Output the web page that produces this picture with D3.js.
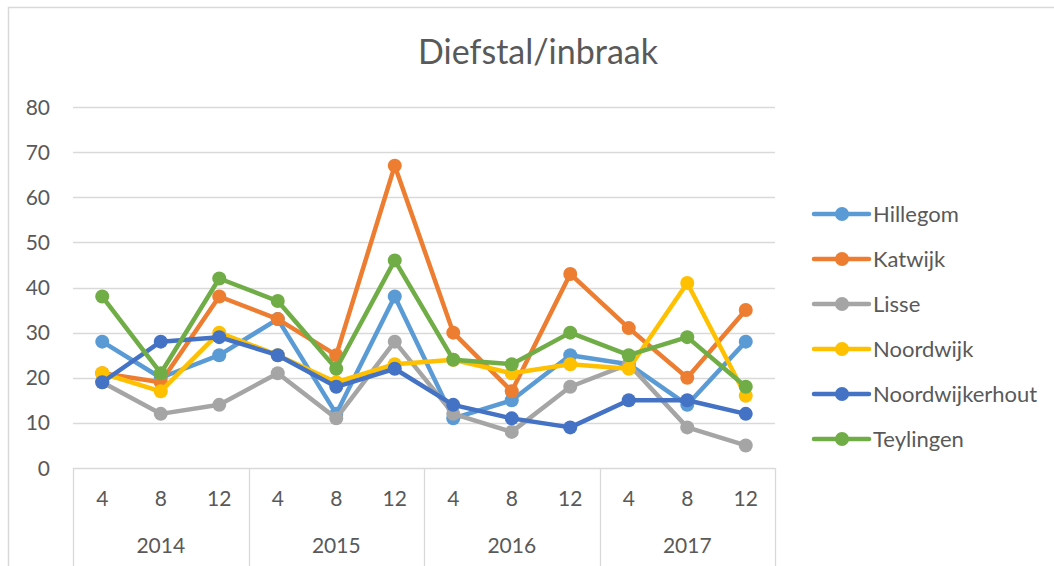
<!DOCTYPE html>
<html>
<head>
<meta charset="utf-8">
<script src="https://cdn.jsdelivr.net/npm/d3@7"></script>
<style>
  body { margin: 0; background: #fff; }
  text { font-family: Lato, "Open Sans", sans-serif; fill: #595959; }
</style>
</head>
<body>
<script>
// data
var years = ["2014", "2015", "2016", "2017"];
var months = ["4", "8", "12"];
var yTicks = [0, 10, 20, 30, 40, 50, 60, 70, 80];

var seriesNames = ["Hillegom", "Katwijk", "Lisse", "Noordwijk", "Noordwijkerhout", "Teylingen"];
var seriesColors = ["#5B9BD5", "#ED7D31", "#A5A5A5", "#FFC000", "#4472C4", "#70AD47"];

var hillegom        = [28, 20, 25, 33, 12, 38, 11, 15, 25, 23, 14, 28];
var katwijk         = [21, 19, 38, 33, 25, 67, 30, 17, 43, 31, 20, 35];
var lisse           = [19, 12, 14, 21, 11, 28, 12, 8, 18, 23, 9, 5];
var noordwijk       = [21, 17, 30, 25, 19, 23, 24, 21, 23, 22, 41, 16];
var noordwijkerhout = [19, 28, 29, 25, 18, 22, 14, 11, 9, 15, 15, 12];
var teylingen       = [38, 21, 42, 37, 22, 46, 24, 23, 30, 25, 29, 18];

var seriesValues = [hillegom, katwijk, lisse, noordwijk, noordwijkerhout, teylingen];

var width = 1054, height = 566;
var plot = {left: 73, right: 775, top: 107, bottom: 468};

// categories: year + month
var cats = [];
years.forEach(function (y) {
    months.forEach(function (m) { cats.push(y + "-" + m); });
});

var svg = d3.select("body").append("svg")
    .attr("width", width)
    .attr("height", height);

// chart border (only top and left visible in the crop)
svg.append("path")
    .attr("d", "M8.5," + height + "V7.5H" + width)
    .attr("fill", "none")
    .attr("stroke", "#d9d9d9")
    .attr("stroke-width", 1.5);

var x = d3.scaleBand().domain(cats).range([plot.left, plot.right]);
var xYear = d3.scaleBand().domain(years).range([plot.left, plot.right]);
var y = d3.scaleLinear().domain([0, 80]).range([plot.bottom, plot.top]);

// title
svg.append("text")
    .attr("x", 538)
    .attr("y", 64)
    .attr("text-anchor", "middle")
    .attr("font-size", 34)
    .text("Diefstal/inbraak");

// gridlines
svg.append("g").selectAll("line.grid")
    .data(yTicks.slice(1))
    .enter().append("line")
    .attr("class", "grid")
    .attr("x1", plot.left).attr("x2", plot.right)
    .attr("y1", function (d) { return Math.round(y(d)) + 0.5; })
    .attr("y2", function (d) { return Math.round(y(d)) + 0.5; })
    .attr("stroke", "#d9d9d9")
    .attr("stroke-width", 1.3);

// y tick labels
svg.append("g").selectAll("text.ytick")
    .data(yTicks)
    .enter().append("text")
    .attr("class", "ytick")
    .attr("x", 50)
    .attr("y", function (d) { return y(d); })
    .attr("dy", "0.36em")
    .attr("text-anchor", "end")
    .attr("font-size", 21)
    .text(function (d) { return d; });

// category axis: baseline and year separators
svg.append("line")
    .attr("x1", plot.left).attr("x2", plot.right)
    .attr("y1", plot.bottom + 0.5).attr("y2", plot.bottom + 0.5)
    .attr("stroke", "#d9d9d9").attr("stroke-width", 1.3);

var sepX = years.map(function (d) { return xYear(d); }).concat([plot.right]);
svg.append("g").selectAll("line.sep")
    .data(sepX)
    .enter().append("line")
    .attr("class", "sep")
    .attr("x1", function (d) { return Math.round(d) + 0.5; })
    .attr("x2", function (d) { return Math.round(d) + 0.5; })
    .attr("y1", plot.bottom).attr("y2", height)
    .attr("stroke", "#d9d9d9").attr("stroke-width", 1.3);

svg.append("g").selectAll("text.month")
    .data(cats)
    .enter().append("text")
    .attr("class", "month")
    .attr("x", function (d) { return x(d) + x.bandwidth() / 2; })
    .attr("y", 506)
    .attr("text-anchor", "middle")
    .attr("font-size", 21)
    .text(function (d) { return d.split("-")[1]; });

svg.append("g").selectAll("text.year")
    .data(years)
    .enter().append("text")
    .attr("class", "year")
    .attr("x", function (d) { return xYear(d) + xYear.bandwidth() / 2; })
    .attr("y", 553)
    .attr("text-anchor", "middle")
    .attr("font-size", 21)
    .text(function (d) { return d; });

// series
var line = d3.line()
    .x(function (d, i) { return x(cats[i]) + x.bandwidth() / 2; })
    .y(function (d) { return y(d); });

seriesValues.forEach(function (vals, s) {
    var g = svg.append("g").attr("class", "series");
    g.append("path")
        .datum(vals)
        .attr("d", line)
        .attr("fill", "none")
        .attr("stroke", seriesColors[s])
        .attr("stroke-width", 4.5)
        .attr("stroke-linejoin", "round")
        .attr("stroke-linecap", "round");
    g.selectAll("circle")
        .data(vals)
        .enter().append("circle")
        .attr("cx", function (d, i) { return x(cats[i]) + x.bandwidth() / 2; })
        .attr("cy", function (d) { return y(d); })
        .attr("r", 7)
        .attr("fill", seriesColors[s]);
});

// legend
var legend = svg.append("g").selectAll("g.leg")
    .data(seriesNames)
    .enter().append("g")
    .attr("class", "leg")
    .attr("transform", function (d, i) { return "translate(0," + (214 + i * 45) + ")"; });

legend.append("line")
    .attr("x1", 814).attr("x2", 869)
    .attr("stroke", function (d, i) { return seriesColors[i]; })
    .attr("stroke-width", 4.5)
    .attr("stroke-linecap", "round");
legend.append("circle")
    .attr("cx", 842).attr("r", 7)
    .attr("fill", function (d, i) { return seriesColors[i]; });
legend.append("text")
    .attr("x", 873)
    .attr("dy", "0.36em")
    .attr("font-size", 22)
    .text(function (d) { return d; });
</script>
</body>
</html>
